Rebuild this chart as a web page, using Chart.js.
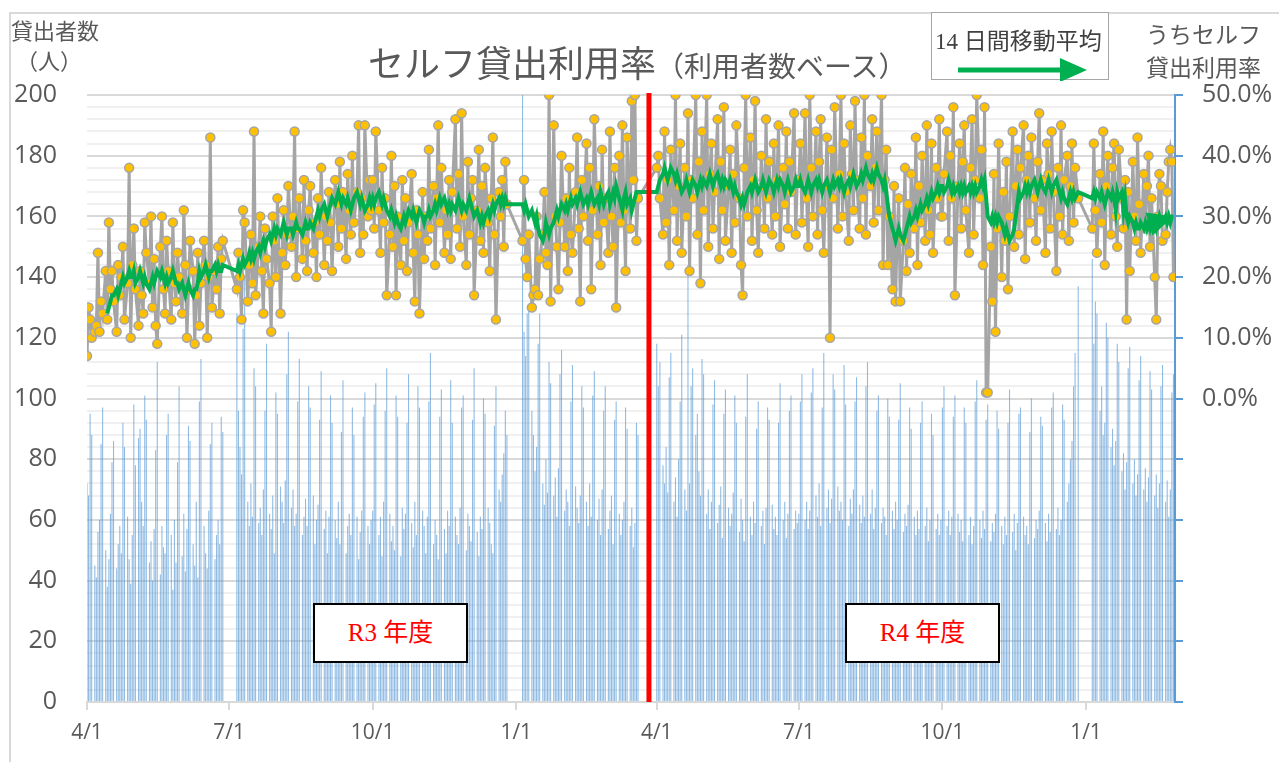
<!DOCTYPE html>
<html lang="ja">
<head>
<meta charset="utf-8">
<title>セルフ貸出利用率</title>
<script src="https://cdn.jsdelivr.net/npm/chart.js@4.4.1/dist/chart.umd.min.js"></script>
<style>
  html, body { margin: 0; padding: 0; background: #fff; }
  #wrap { position: relative; width: 1279px; height: 762px; overflow: hidden; }
  #frame { position: absolute; left: 9px; top: 12px; width: 1400px; height: 900px; border: 2px solid #d9d9d9; box-sizing: border-box; }
  #myChart { position: absolute; left: 0; top: 0; }
  .lbl { position: absolute; white-space: nowrap; color: #595959; font-family: "Noto Sans CJK JP", sans-serif; }
  #title { left: 368px; top: 35px; }
  #title .big { font-size: 36px; }
  #title .small { font-size: 28px; }
  #yTitle { left: 11px; top: 14px; font-size: 22px; line-height: 30px; }
  #y1Title { left: 1146px; top: 17px; font-size: 23px; line-height: 33px; text-align: center; }
  #legendBox { position: absolute; left: 931px; top: 12px; width: 178px; height: 68px; border: 1px solid #a6a6a6; background: #fff; box-sizing: border-box; }
  #legendBox .txt { position: absolute; left: 3px; top: 9px; font-size: 23px; white-space: nowrap; font-family: "Liberation Serif", "Noto Sans CJK JP", serif; color: #404040; }
  #legendBox svg { position: absolute; left: 0; top: 0; }
  .nendo { position: absolute; top: 603px; width: 155px; height: 60px; border: 2px solid #000; background: #fff; box-sizing: border-box; color: #ff0000; font-family: "Liberation Serif", "Noto Sans CJK JP", serif; font-size: 25px; text-align: center; line-height: 56px; }
</style>
</head>
<body>
<div id="wrap">
  <div id="frame"></div>
  <canvas id="myChart" width="1279" height="762"></canvas>
  <div class="lbl" id="title"><span class="big">セルフ貸出利用率</span><span class="small">（利用者数ベース）</span></div>
  <div class="lbl" id="yTitle">貸出者数<br>&nbsp;（人）</div>
  <div class="lbl" id="y1Title">うちセルフ<br>貸出利用率</div>
  <div id="legendBox">
    <div class="txt">14 日間移動平均</div>
    <svg width="178" height="68">
      <line x1="26" y1="57" x2="132" y2="57" stroke="#00b050" stroke-width="5"/>
      <polygon points="128,45 155,57 128,69" fill="#00b050"/>
    </svg>
  </div>
  <div class="nendo" style="left:313px;">R3 年度</div>
  <div class="nendo" style="left:845px;">R4 年度</div>
</div>
<script>
// 期間 (0 = 2021/4/1)
var lastDay = 696;
var axisMax = 697;
var closedRanges = [[88, 95], [271, 278], [354, 364], [636, 643]];
var quarterDays = [0, 91, 183, 275, 365, 456, 548, 640];
var quarterLabels = ['4/1', '7/1', '10/1', '1/1', '4/1', '7/1', '10/1', '1/1'];
var dividerDay = 360;

// 貸出者数（開館日ごと, 四半期ごと）
var usersQ1 = [72, 68, 95, 88,
  45, 41, 56, 60, 85, 97,  50, 38, 47, 62, 79, 86,  44, 52, 58, 49, 92, 84,
  61, 47, 39, 55, 98, 78,  87, 90, 66, 58, 101, 93, 46, 53, 40, 57, 83, 112,
  42, 58, 51, 49, 88, 95,  55, 37, 60, 46, 79, 104, 48, 62, 43, 57, 91, 86,
  52, 45, 66, 41, 99, 113, 58, 49, 44, 63, 85, 92,  47, 55, 60, 52, 94, 89];
var usersQ2 = [
  128, 96, 84, 75, 123, 140, 66, 58, 72, 61, 110, 104, 59, 64, 55, 70, 96, 118,
  62, 57, 68, 49, 102, 95,   71, 66, 59, 73, 108, 122, 64, 70, 58, 62, 99, 113,
  55, 61, 67, 58, 104, 97,   68, 52, 60, 65, 93, 109,  57, 63, 49, 61, 101, 92,
  60, 54, 66, 52, 89, 106,   49, 58, 62, 55, 97, 88,   61, 47, 56, 63, 94, 102,
  58, 52, 60];
var usersQ3 = [63, 98, 105,
  55, 61, 48, 66, 96, 110, 62, 53, 58, 50, 101, 94, 48, 64, 57, 62, 92, 108,
  59, 51, 66, 55, 104, 97, 63, 58, 49, 61, 99, 115, 52, 60, 55, 47, 94, 103,
  57, 49, 63, 58, 106, 92, 61, 55, 52, 64, 97, 101, 50, 62, 58, 53, 93, 110,
  56, 48, 61, 57, 100, 95, 64, 59, 52, 49, 91, 104, 70, 66, 75, 82, 96, 88];
var usersQ4 = [215, 122, 114, 128, 131,
  96, 88, 76, 84, 118, 128, 72, 65, 80, 69, 112, 105, 68, 74, 61, 77, 108, 116,
  63, 70, 66, 58, 99, 111,  71, 64, 59, 68, 104, 97,  66, 58, 72, 61, 101, 109,
  60, 67, 55, 70, 96, 104,  57, 63, 68, 52, 93, 99,   62, 55, 60, 66, 97, 90,
  58, 64, 51, 59, 92, 88];
var usersQ5 = [118, 104, 112,
  78, 72, 84, 69, 107, 115, 66, 74, 61, 80, 99, 121, 70, 63, 144, 72, 104, 110,
  88, 95, 76, 68, 113, 108, 62, 70, 57, 66, 98, 106, 59, 65, 71, 54, 95, 103,
  64, 58, 62, 69, 101, 92,  56, 67, 60, 53, 94, 108, 61, 55, 66, 59, 90, 99,
  58, 63, 52, 64, 97, 93,   65, 57, 61, 55, 92, 105, 60, 66, 54, 62, 96, 101,
  57, 63, 59];
var usersQ6 = [62, 99, 108,
  60, 66, 57, 63, 102, 110, 68, 61, 72, 58, 97, 115, 64, 70, 59, 67, 108, 103,
  71, 63, 66, 60, 111, 98,  58, 67, 62, 70, 99, 107,  65, 59, 68, 61, 104, 112,
  62, 70, 57, 64, 96, 101,  59, 64, 61, 55, 100, 94,  63, 57, 66, 60, 93, 105,
  56, 62, 58, 65, 97, 90,   61, 55, 63, 57, 92, 99,   58, 64, 53, 60, 95, 88,
  57, 62, 55, 60];
var usersQ7 = [97, 104,
  58, 63, 55, 61, 94, 101, 62, 56, 60, 53, 97, 92,  55, 61, 52, 58, 99, 106,
  60, 54, 63, 57, 93, 98,  53, 59, 56, 62, 96, 90,  58, 52, 61, 55, 92, 103,
  56, 62, 50, 59, 95, 97,  61, 55, 58, 52, 89, 100, 54, 60, 57, 63, 94, 91,
  59, 53, 62, 56, 97, 102, 57, 64, 55, 60, 98, 93, 66, 72, 80, 86, 104, 115,
  137];
var usersQ8 = [146, 118, 132, 128,
  96, 104, 88, 92, 125, 120, 84, 90, 78, 86, 118, 112, 76, 82, 70, 79, 110, 117,
  72, 80, 68, 75, 106, 114,  70, 77, 66, 74, 109, 103, 68, 75, 64, 72, 104, 111,
  66, 73, 61, 70, 102, 108];

// うちセルフ貸出利用率 (%)
var rateQ1 = [7, 15, 13, 10, 11, 12, 24, 11, 16, 14, 21, 13, 29, 18, 21, 16, 11, 22, 17, 20,
  25, 13, 19, 38, 10, 22, 28, 18, 12, 21, 17, 14, 29, 24, 19, 30, 15, 23, 12, 9,
  25, 30, 18, 14, 26, 21, 13, 29, 19, 16, 24, 20, 14, 31, 22, 10, 18, 26, 21, 9,
  17, 24, 12, 19, 26, 22, 10, 20, 43, 15, 21, 18, 25, 14, 23, 26];
var rateQ2 = [18, 24, 20, 13, 31, 29, 16, 22, 27, 19, 44, 17, 25, 30, 21, 14, 28, 23, 19, 11,
  30, 26, 20, 33, 14, 24, 31, 22, 27, 35, 25, 30, 44, 20, 28, 33, 23, 36, 26, 21,
  31, 35, 24, 29, 20, 33, 27, 38, 22, 30, 26, 34, 29, 21, 36, 32, 25, 39, 28, 34,
  23, 37, 31, 27, 40, 29, 34, 45, 24, 33, 27, 45, 30, 36, 31];
var rateQ3 = [36, 28, 44, 31, 24, 38, 29, 33, 17, 27, 40, 25, 35, 17, 30, 22, 36, 26, 33, 21,
  29, 37, 24, 16, 31, 27, 14, 34, 23, 30, 26, 41, 28, 35, 22, 33, 45, 29, 38, 24,
  31, 27, 36, 23, 34, 46, 28, 37, 25, 47, 30, 22, 39, 27, 33, 36, 17, 31, 41, 26,
  35, 24, 38, 29, 21, 33, 43, 27, 13, 34, 30, 36, 25, 39, 32];
var rateQ4 = [26, 36, 23, 20, 27, 15, 17, 18, 30, 17, 23, 27, 34, 24, 22, 50, 16, 45, 30, 25,
  18, 29, 40, 25, 33, 21, 38, 27, 24, 34, 43, 28, 16, 36, 30, 42, 26, 38, 18, 31,
  46, 27, 35, 22, 41, 29, 33, 24, 44, 30, 25, 38, 15, 40, 29, 45, 31, 21, 43, 28,
  49, 36, 50, 26, 33];
var rateQ5 = [38, 40, 33, 27, 44, 29, 36, 22, 41, 31, 50, 26, 35, 42, 24, 38, 30, 47, 21, 36,
  33, 50, 27, 39, 19, 44, 31, 50, 25, 37, 42, 28, 34, 46, 23, 39, 31, 48, 26, 35,
  41, 24, 37, 29, 45, 33, 22, 17, 38, 50, 30, 43, 26, 36, 49, 31, 24, 40, 35, 28,
  46, 33, 39, 27, 42, 30, 36, 45, 25, 38, 32, 44, 28, 39, 34, 47, 27, 36];
var rateQ6 = [36, 42, 29, 47, 33, 25, 50, 38, 30, 44, 27, 39, 46, 31, 24, 43, 35, 10, 41, 33,
  48, 28, 37, 50, 30, 42, 34, 26, 45, 37, 31, 49, 36, 28, 43, 33, 50, 27, 40, 35,
  46, 29, 38, 44, 31, 50, 22, 36, 41, 22, 30, 18, 35, 16, 27, 33, 16, 26, 38, 21,
  32, 24, 37, 28, 43, 22, 35, 29, 40, 26, 45, 31, 27, 42, 24, 38, 33, 46, 30];
var rateQ7 = [30, 37, 44, 26, 40, 33, 48, 17, 35, 42, 28, 39, 45, 31, 24, 38, 46, 27, 36, 50,
  33, 41, 22, 48, 1, 1, 25, 16, 37, 11, 28, 42, 20, 34, 26, 39, 18, 30, 44, 25,
  35, 41, 27, 38, 45, 23, 36, 40, 29, 43, 33, 26, 39, 47, 31, 36, 24, 42, 37, 28,
  44, 34, 21, 38, 30, 45, 27, 36, 40, 26, 35, 42, 29, 38, 33];
var rateQ8 = [28, 42, 31, 24, 37, 29, 44, 22, 35, 40, 27, 38, 42, 30, 25, 41, 33, 28, 36, 13,
  34, 21, 39, 30, 26, 43, 32, 24, 37, 28, 35, 40, 25, 33, 20, 13, 30, 37, 35, 26,
  27, 34, 39, 41, 39, 20];

// 14日間移動平均 (%)
var avgQ1 = [null, null, null, null, null, null, null, null, null, null,
  null, 14, 15, 16, 17, 17, 18, 17, 18, 19, 20, 19, 20, 21, 20, 20, 21, 19, 20, 21,
  20, 19, 20, 19, 18, 19, 20, 19, 20, 21, 20, 21, 20, 19, 20, 19, 20, 21, 20, 19,
  19, 18, 19, 18, 17, 18, 19, 18, 17, 18, 18, 19, 21, 20, 21, 22, 21, 20, 21, 21,
  22, 21, 22, 21, 21, 22];
var avgQ2 = [21, 22, 21, 22, 23, 22, 23, 24, 23, 24, 23, 24, 25, 24, 25, 26, 25, 26, 27, 26,
  27, 28, 27, 28, 27, 28, 29, 28, 27, 28, 28, 27, 28, 29, 28, 28, 27, 28, 29, 28,
  28, 29, 28, 29, 30, 31, 30, 31, 32, 31, 30, 31, 32, 33, 32, 33, 34, 33, 32, 33,
  32, 33, 32, 31, 32, 33, 34, 33, 32, 33, 32, 31, 32, 33, 32];
var avgQ3 = [33, 32, 33, 34, 33, 32, 33, 32, 31, 30, 31, 30, 29, 30, 29, 28, 29, 30, 29, 30,
  31, 30, 31, 30, 29, 30, 31, 30, 29, 30, 30, 31, 30, 31, 32, 31, 32, 33, 32, 33,
  32, 31, 32, 31, 32, 31, 32, 33, 32, 31, 32, 31, 32, 33, 32, 31, 30, 31, 30, 29,
  30, 29, 30, 31, 30, 31, 32, 31, 32, 33, 32, 33, 32, 33, 32];
var avgQ4 = [32, 31, 32, 31, 30, 31, 30, 29, 30, 28, 27, 26, 27, 29, 28, 27, 28, 29, 30, 31,
  30, 31, 32, 31, 32, 31, 32, 33, 32, 33, 32, 33, 34, 33, 32, 33, 32, 33, 34, 33,
  32, 33, 32, 34, 33, 32, 33, 34, 32, 33, 34, 33, 35, 33, 32, 31, 33, 34, 32, 33,
  31, 32, 33, 34, 34];
var avgQ5 = [34, 35, 36, 37, 38, 37, 36, 37, 38, 37, 36, 37, 36, 35, 34, 35, 36, 35, 34, 35,
  36, 35, 34, 35, 36, 35, 36, 35, 36, 37, 36, 35, 36, 37, 36, 35, 36, 35, 36, 35,
  36, 35, 34, 35, 34, 33, 32, 33, 32, 33, 34, 35, 34, 35, 36, 35, 34, 35, 36, 35,
  34, 35, 36, 35, 34, 35, 36, 35, 36, 35, 34, 35, 36, 35, 34, 35, 36, 35];
var avgQ6 = [35, 36, 35, 34, 35, 36, 35, 34, 35, 36, 35, 36, 35, 34, 35, 36, 35, 34, 35, 36,
  35, 36, 35, 36, 35, 34, 35, 36, 35, 36, 37, 36, 35, 36, 37, 36, 37, 38, 37, 36,
  37, 36, 37, 38, 37, 36, 35, 36, 34, 32, 30, 28, 27, 26, 27, 28, 27, 26, 27, 28,
  29, 30, 29, 30, 31, 30, 31, 32, 31, 32, 33, 32, 33, 34, 33, 34, 35, 34, 35];
var avgQ7 = [35, 34, 35, 36, 35, 34, 35, 34, 35, 34, 35, 34, 35, 34, 35, 34, 35, 34, 35, 34,
  35, 36, 35, 36, 33, 30, 29, 30, 29, 30, 29, 30, 29, 28, 27, 28, 27, 26, 27, 28,
  30, 32, 34, 33, 34, 35, 34, 35, 34, 35, 36, 35, 34, 35, 36, 35, 34, 35, 36, 35,
  34, 35, 36, 35, 34, 33, 34, 33, 32, 33, 34, 33, 34, 33, 34];
var avgQ8 = [33, 34, 33, 34, 33, 34, 33, 32, 33, 34, 33, 34, 33, 31, 34, 33, 34, 31, 33, 30,
  29, 30, 29, 28, 29, 28, 28, 29, 28, 29, 28, 29, 28, 29, 29, 28, 29, 30, 29, 29,
  30, 29, 30, 29, 30, 30];

var usersByQuarter = [usersQ1, usersQ2, usersQ3, usersQ4, usersQ5, usersQ6, usersQ7, usersQ8];
var rateByQuarter = [rateQ1, rateQ2, rateQ3, rateQ4, rateQ5, rateQ6, rateQ7, rateQ8];
var avgByQuarter = [avgQ1, avgQ2, avgQ3, avgQ4, avgQ5, avgQ6, avgQ7, avgQ8];

// 開館日判定（月曜休館 + 長期休館）
function isOpen(d) {
    var date = new Date(2021, 3, 1 + d);
    if (date.getDay() == 1) {
        return false;
    }
    for (var i = 0; i < closedRanges.length; i++) {
        if (d >= closedRanges[i][0] && d <= closedRanges[i][1]) {
            return false;
        }
    }
    return true;
}

var userPoints = [];
var ratePoints = [];
var avgPoints = [];
for (var q = 0; q < quarterDays.length; q++) {
    var from = quarterDays[q];
    var to = (q + 1 < quarterDays.length) ? quarterDays[q + 1] - 1 : lastDay;
    var k = 0;
    for (var d = from; d <= to; d++) {
        if (!isOpen(d)) {
            continue;
        }
        if (usersByQuarter[q][k] != null) userPoints.push({x: d, y: usersByQuarter[q][k]});
        if (rateByQuarter[q][k] != null) ratePoints.push({x: d, y: rateByQuarter[q][k]});
        if (avgByQuarter[q][k] != null) avgPoints.push({x: d, y: avgByQuarter[q][k]});
        k++;
    }
}

// 赤い区切り線と移動平均の矢印
var extrasPlugin = {
    id: 'extras',
    afterDatasetsDraw: function (chart) {
        var c = chart.ctx;
        var area = chart.chartArea;
        var xs = chart.scales.x;
        var dx = xs.getPixelForValue(dividerDay);
        c.save();
        c.strokeStyle = '#ff0000';
        c.lineWidth = 5;
        c.beginPath();
        c.moveTo(dx, area.top - 2);
        c.lineTo(dx, area.bottom);
        c.stroke();

        var meta = chart.getDatasetMeta(2);
        var last = meta.data[meta.data.length - 1];
        c.fillStyle = '#00b050';
        c.beginPath();
        c.moveTo(last.x, last.y);
        c.lineTo(last.x - 28, last.y - 4);
        c.lineTo(last.x - 21, last.y + 19);
        c.closePath();
        c.fill();
        c.restore();
    }
};

Chart.defaults.font.family = '"Open Sans", sans-serif';
Chart.defaults.color = '#595959';

var ctx = document.getElementById('myChart');
var myChart = new Chart(ctx, {
    type: 'bar',
    data: {
        datasets: [{
            type: 'bar',
            label: '貸出者数',
            data: userPoints,
            yAxisID: 'y',
            backgroundColor: 'rgba(91, 155, 213, 0.68)',
            borderWidth: 0,
            barPercentage: 0.7,
            categoryPercentage: 1,
            clip: 0,
            order: 3
        }, {
            type: 'line',
            label: 'うちセルフ貸出利用率',
            data: ratePoints,
            yAxisID: 'y1',
            borderColor: '#a5a5a5',
            borderWidth: 3,
            pointRadius: 4.5,
            pointBackgroundColor: '#ffc000',
            pointBorderColor: '#a5a5a5',
            pointBorderWidth: 1.5,
            tension: 0,
            order: 2
        }, {
            type: 'line',
            label: '14日間移動平均',
            data: avgPoints,
            yAxisID: 'y1',
            borderColor: '#00b050',
            borderWidth: 4,
            pointRadius: 0,
            tension: 0,
            order: 1
        }]
    },
    options: {
        responsive: false,
        animation: false,
        devicePixelRatio: 1,
        layout: { padding: { top: 95, left: 0, right: 0, bottom: 0 } },
        plugins: {
            legend: { display: false },
            tooltip: { enabled: false },
            title: { display: false }
        },
        scales: {
            x: {
                type: 'linear',
                min: 0,
                max: axisMax,
                offset: false,
                afterBuildTicks: function (scale) {
                    scale.ticks = quarterDays.map(function (v) { return {value: v}; });
                },
                afterFit: function (scale) { scale.height = 60; },
                ticks: {
                    autoSkip: false,
                    maxRotation: 0,
                    padding: 10,
                    font: { size: 21 },
                    callback: function (v, i) { return quarterLabels[i]; }
                },
                grid: { drawOnChartArea: false, offset: false, color: '#d9d9d9', lineWidth: 2, tickLength: 8 },
                border: { color: '#d9d9d9', width: 2 }
            },
            y: {
                position: 'left',
                min: 0,
                max: 200,
                afterFit: function (scale) { scale.width = 87; },
                ticks: {
                    stepSize: 4,
                    autoSkip: false,
                    padding: 30,
                    font: { size: 25 },
                    callback: function (v) { return v % 20 === 0 ? v : ''; }
                },
                grid: {
                    drawTicks: false,
                    lineWidth: 2,
                    color: function (c) { return c.tick.value % 20 === 0 ? '#d9d9d9' : '#f0f0f0'; }
                },
                border: { display: false }
            },
            y1: {
                position: 'right',
                min: -50,
                max: 50,
                afterFit: function (scale) { scale.width = 104; },
                ticks: {
                    stepSize: 10,
                    autoSkip: false,
                    padding: 19,
                    font: { size: 25 },
                    callback: function (v) { return v >= 0 ? v.toFixed(1) + '%' : ''; }
                },
                grid: { drawOnChartArea: false, color: '#5b9bd5', lineWidth: 2, tickLength: 8 },
                border: { color: '#5b9bd5', width: 2 }
            }
        }
    },
    plugins: [extrasPlugin]
});
</script>
</body>
</html>
